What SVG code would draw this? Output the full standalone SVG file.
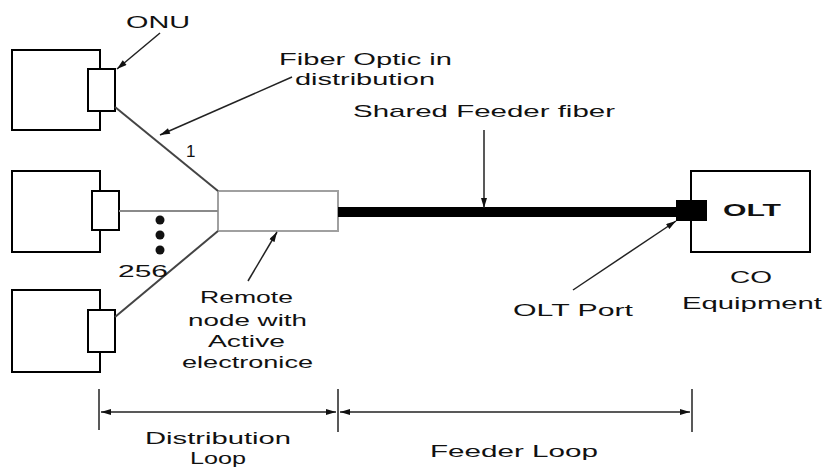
<svg xmlns="http://www.w3.org/2000/svg" width="824" height="470" viewBox="0 0 824 470">
<style>
.box{fill:#fff;stroke:#000;stroke-width:2}
.port{fill:#fff;stroke:#000;stroke-width:2}
.lbl{font-family:"Liberation Sans",Arial,sans-serif;font-size:17px;fill:#111}
.fib{stroke:#444;stroke-width:2;fill:none}
.lead{stroke:#222;stroke-width:1.5;fill:none}
</style>
<defs>
<marker id="ah" viewBox="0 0 10 6" refX="10" refY="3" markerWidth="11" markerHeight="6" markerUnits="userSpaceOnUse" orient="auto-start-reverse">
<path d="M0,0 L10,3 L0,6 z" fill="#111"/>
</marker>
</defs>
<rect width="824" height="470" fill="#fff"/>

<g id="onu1">
<rect class="box" x="12" y="50" width="88" height="80"/>
<rect class="port" x="88" y="69" width="27" height="42"/>
</g>
<g id="onu2">
<rect class="box" x="12" y="171" width="88" height="81"/>
<rect class="port" x="92" y="191" width="27" height="39"/>
</g>
<g id="onu3">
<rect class="box" x="12" y="290" width="88" height="82"/>
<rect class="port" x="88" y="310" width="27" height="42"/>
</g>
<g id="remote-node">
<rect x="218" y="191" width="120" height="40" fill="#fff" stroke="#a0a0a0" stroke-width="2"/>
</g>
<g id="olt">
<rect class="box" x="691" y="171" width="119" height="81"/>
<rect x="676" y="200" width="31" height="21" fill="#000"/>
<text class="lbl" x="723" y="216" font-weight="bold" textLength="58" lengthAdjust="spacingAndGlyphs">OLT</text>
</g>

<g id="connectors">
<line class="fib" x1="115" y1="107" x2="218" y2="191"/>
<line x1="119" y1="211" x2="218" y2="211" stroke="#8a8a8a" stroke-width="2"/>
<line class="fib" x1="115" y1="317" x2="218" y2="231"/>
<line x1="338" y1="212" x2="678" y2="212" stroke="#000" stroke-width="10"/>
<circle cx="160" cy="220" r="4.5" fill="#111"/>
<circle cx="160" cy="235" r="4.5" fill="#111"/>
<circle cx="160" cy="250" r="4.5" fill="#111"/>
<line class="lead" x1="160" y1="33" x2="117" y2="69" marker-end="url(#ah)"/>
<line class="lead" x1="292" y1="77" x2="160" y2="135" marker-end="url(#ah)"/>
<line class="lead" x1="484" y1="130" x2="484" y2="208" marker-end="url(#ah)"/>
<line class="lead" x1="248" y1="281" x2="277" y2="232" marker-end="url(#ah)"/>
<line class="lead" x1="573" y1="290" x2="676" y2="221" marker-end="url(#ah)"/>
<line class="lead" x1="99" y1="389" x2="99" y2="430"/>
<line class="lead" x1="338" y1="389" x2="338" y2="432"/>
<line class="lead" x1="692" y1="389" x2="692" y2="432"/>
<line class="lead" x1="101" y1="412" x2="336" y2="412" marker-start="url(#ah)" marker-end="url(#ah)"/>
<line class="lead" x1="340" y1="412" x2="690" y2="412" marker-start="url(#ah)" marker-end="url(#ah)"/>
</g>

<g id="labels">
<text class="lbl" x="126" y="28" textLength="64" lengthAdjust="spacingAndGlyphs">ONU</text>
<text class="lbl" x="279" y="65" textLength="173" lengthAdjust="spacingAndGlyphs">Fiber Optic in</text>
<text class="lbl" x="295" y="85" textLength="140" lengthAdjust="spacingAndGlyphs">distribution</text>
<text class="lbl" x="353" y="117" textLength="262" lengthAdjust="spacingAndGlyphs">Shared Feeder fiber</text>
<text class="lbl" x="186" y="157">1</text>
<text class="lbl" x="118" y="277" textLength="50" lengthAdjust="spacingAndGlyphs">256</text>
<text class="lbl" x="200" y="303" textLength="93" lengthAdjust="spacingAndGlyphs">Remote</text>
<text class="lbl" x="188" y="326" textLength="119" lengthAdjust="spacingAndGlyphs">node with</text>
<text class="lbl" x="208" y="347" textLength="77" lengthAdjust="spacingAndGlyphs">Active</text>
<text class="lbl" x="182" y="368" textLength="131" lengthAdjust="spacingAndGlyphs">electronice</text>
<text class="lbl" x="513" y="316" textLength="120" lengthAdjust="spacingAndGlyphs">OLT Port</text>
<text class="lbl" x="730" y="283" textLength="42" lengthAdjust="spacingAndGlyphs">CO</text>
<text class="lbl" x="682" y="309" textLength="140" lengthAdjust="spacingAndGlyphs">Equipment</text>
<text class="lbl" x="145" y="444" textLength="146" lengthAdjust="spacingAndGlyphs">Distribution</text>
<text class="lbl" x="190" y="464" textLength="56" lengthAdjust="spacingAndGlyphs">Loop</text>
<text class="lbl" x="430" y="457" textLength="168" lengthAdjust="spacingAndGlyphs">Feeder Loop</text>
</g>
</svg>
